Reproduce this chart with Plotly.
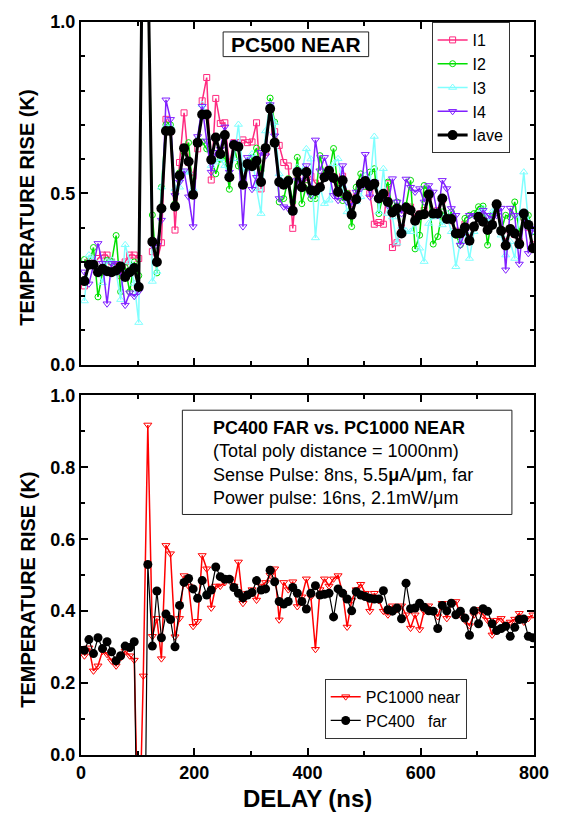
import plotly.graph_objects as go

# ---------------- data ----------------
delay_ns = list(range(6, 800, 8))  # 100 sample delays (ns)

# Top panel: PC500 NEAR
i1 = [0.23,0.30,0.29,0.31,0.32,0.32,0.30,0.29,0.26,0.30,0.32,0.32,0.31,
      1.50,1.20,
      0.33,0.30,0.356,0.716,0.68,0.393,0.59,0.735,0.59,0.55,
      0.63,0.77,0.838,0.539,0.777,0.704,0.706,0.586,0.648,0.648,
      0.656,0.648,0.65,0.706,0.513,0.62,0.747,0.68,0.64,0.59,
      0.58,0.398,0.552,0.528,0.54,0.55,0.53,0.52,0.55,0.57,
      0.55,0.52,0.55,0.50,0.47,0.49,0.52,0.53,0.50,0.41,
      0.415,0.41,0.528,0.342,0.356,0.40,0.45,0.46,0.43,0.44,
      0.45,0.49,0.44,0.45,0.48,0.43,0.42,0.39,0.38,0.41,
      0.37,0.40,0.43,0.42,0.40,0.41,0.46,0.39,0.36,0.39,
      0.38,0.36,0.43,0.40,0.35]
i2 = [0.307,0.29,0.342,0.198,0.27,0.305,0.30,0.377,0.213,0.284,0.213,0.300,0.26,
      1.50,1.20,
      0.437,0.268,0.518,0.70,0.70,0.47,0.56,0.62,0.648,0.50,
      0.65,0.65,0.63,0.60,0.557,0.60,0.61,0.512,0.64,0.58,
      0.53,0.575,0.605,0.632,0.566,0.63,0.778,0.708,0.475,0.485,
      0.543,0.475,0.605,0.470,0.523,0.485,0.485,0.61,0.55,0.56,
      0.631,0.514,0.479,0.50,0.403,0.518,0.557,0.52,0.562,0.572,
      0.441,0.499,0.533,0.448,0.475,0.388,0.465,0.538,0.338,0.378,
      0.523,0.504,0.352,0.374,0.446,0.427,0.446,0.378,0.35,0.427,
      0.436,0.441,0.461,0.463,0.349,0.436,0.461,0.391,0.436,0.431,
      0.475,0.388,0.427,0.436,0.388]
i3 = [0.186,0.320,0.308,0.27,0.239,0.302,0.306,0.27,0.19,0.35,0.30,0.237,0.123,
      1.50,1.20,
      0.243,0.272,0.518,0.696,0.696,0.514,0.518,0.562,0.562,0.514,
      0.658,0.759,0.732,0.581,0.591,0.601,0.581,0.552,0.601,0.701,
      0.562,0.596,0.615,0.514,0.441,0.682,0.759,0.706,0.557,0.533,
      0.538,0.446,0.576,0.56,0.63,0.60,0.37,0.52,0.47,0.48,
      0.586,0.601,0.523,0.446,0.446,0.475,0.49,0.552,0.523,0.666,
      0.446,0.572,0.441,0.431,0.355,0.403,0.390,0.388,0.417,0.340,
      0.301,0.412,0.431,0.436,0.408,0.441,0.388,0.286,0.359,0.388,
      0.310,0.388,0.441,0.456,0.417,0.446,0.465,0.378,0.320,0.359,
      0.310,0.436,0.562,0.417,0.388]
i4 = [0.271,0.236,0.29,0.354,0.296,0.178,0.296,0.296,0.27,0.174,0.21,0.20,0.214,
      1.50,1.20,
      0.349,0.349,0.422,0.773,0.716,0.494,0.533,0.566,0.49,0.403,
      0.666,0.754,0.653,0.562,0.62,0.629,0.694,0.562,0.648,0.634,
      0.403,0.605,0.512,0.547,0.62,0.610,0.759,0.668,0.485,0.461,
      0.456,0.446,0.538,0.533,0.581,0.494,0.656,0.566,0.605,0.562,
      0.494,0.480,0.581,0.475,0.465,0.504,0.514,0.614,0.49,0.533,
      0.485,0.49,0.465,0.543,0.475,0.441,0.542,0.518,0.504,0.514,
      0.475,0.523,0.504,0.436,0.538,0.514,0.456,0.436,0.349,0.388,
      0.436,0.436,0.427,0.451,0.436,0.427,0.436,0.457,0.277,0.457,
      0.436,0.294,0.436,0.325,0.398]
iave = [0.244,0.292,0.292,0.270,0.280,0.273,0.270,0.275,0.287,0.256,0.270,0.282,0.227,
        1.50,1.20,
        0.359,0.300,0.456,0.682,0.682,0.462,0.552,0.632,0.593,0.496,
        0.648,0.730,0.730,0.598,0.663,0.615,0.670,0.547,0.641,0.636,
        0.525,0.586,0.579,0.595,0.533,0.632,0.747,0.648,0.533,0.525,
        0.536,0.449,0.562,0.518,0.562,0.509,0.507,0.518,0.547,0.566,
        0.545,0.504,0.538,0.492,0.438,0.483,0.528,0.536,0.521,0.528,
        0.485,0.499,0.475,0.444,0.456,0.383,0.459,0.451,0.420,0.436,
        0.439,0.497,0.441,0.441,0.485,0.425,0.425,0.383,0.383,0.401,
        0.362,0.403,0.432,0.417,0.393,0.408,0.468,0.391,0.348,0.396,
        0.383,0.352,0.441,0.408,0.340]

# Bottom panel: PC400 FAR vs PC1000 NEAR
pc1000_near = [0.276,0.298,0.234,0.248,0.289,0.280,0.262,0.248,0.271,0.289,0.276,0.264,
               -0.30,0.220,0.918,
               0.33,0.38,0.268,0.583,0.560,0.329,0.38,0.499,0.47,0.358,
               0.372,0.555,0.518,0.409,0.47,0.47,0.48,0.49,0.47,0.537,
               0.422,0.45,0.46,0.431,0.47,0.48,0.50,0.518,0.376,0.48,
               0.46,0.482,0.413,0.44,0.49,0.44,0.294,0.46,0.49,
               0.47,0.49,0.499,0.45,0.356,0.43,0.46,0.475,0.45,0.40,
               0.45,0.43,0.40,0.39,0.415,0.405,0.415,0.39,0.353,0.39,
               0.349,0.40,0.415,0.40,0.385,0.422,0.38,0.422,0.427,0.39,
               0.375,0.36,0.39,0.405,0.39,0.375,0.334,0.375,0.38,0.364,
               0.37,0.378,0.394,0.37,0.38,0.39]
pc400_far = [0.291,0.321,0.282,0.326,0.296,0.315,0.287,0.262,0.276,0.303,0.299,0.315,
             -0.60,-0.70,0.530,
             0.303,0.456,0.326,0.392,0.377,0.301,0.416,0.480,0.491,0.462,
             0.436,0.485,0.445,0.459,0.523,0.496,0.489,0.489,0.466,0.450,
             0.437,0.445,0.452,0.485,0.459,0.462,0.514,0.482,0.427,0.420,
             0.427,0.466,0.450,0.427,0.406,0.450,0.471,0.445,0.447,
             0.450,0.384,0.462,0.450,0.434,0.401,0.454,0.445,0.441,0.436,
             0.434,0.434,0.457,0.404,0.400,0.409,0.379,0.478,0.407,0.409,
             0.422,0.411,0.401,0.400,0.352,0.416,0.401,0.422,0.390,0.400,
             0.381,0.333,0.401,0.365,0.407,0.400,0.365,0.346,0.352,0.358,
             0.330,0.355,0.377,0.378,0.330,0.326]

top_series = [("I1", i1, "#ff2a80", "square-open", 6),
              ("I2", i2, "#00e000", "circle-open", 6),
              ("I3", i3, "#80ffff", "triangle-up-open", 7),
              ("I4", i4, "#8020ff", "triangle-down-open", 7)]

FONT = "Liberation Sans, Arial, sans-serif"

fig = go.Figure()
for name, vals, col, sym, sz in top_series:
    fig.add_trace(go.Scatter(x=delay_ns, y=vals, name=name, mode="lines+markers",
                             line=dict(color=col, width=1.5),
                             marker=dict(symbol=sym, size=sz, color=col, line=dict(color=col, width=1)),
                             xaxis="x", yaxis="y", legend="legend"))
fig.add_trace(go.Scatter(x=delay_ns, y=iave, name="Iave", mode="lines+markers",
                         line=dict(color="black", width=3),
                         marker=dict(symbol="circle", size=10, color="black"),
                         xaxis="x", yaxis="y", legend="legend"))

fig.add_trace(go.Scatter(x=delay_ns, y=pc1000_near, name="PC1000 near", mode="lines+markers",
                         line=dict(color="#ff0000", width=1.5),
                         marker=dict(symbol="triangle-down-open", size=7, color="#ff0000",
                                     line=dict(color="#ff0000", width=1)),
                         xaxis="x2", yaxis="y2", legend="legend2"))
fig.add_trace(go.Scatter(x=delay_ns, y=pc400_far, name="PC400\u00a0\u00a0\u00a0far", mode="lines+markers",
                         line=dict(color="black", width=1.2),
                         marker=dict(symbol="circle", size=9, color="black"),
                         xaxis="x2", yaxis="y2", legend="legend2"))

axis_common = dict(showline=True, linewidth=2, linecolor="black", mirror="allticks",
                   ticks="inside", ticklen=7, tickwidth=2, tickcolor="black",
                   showgrid=False, zeroline=False,
                   tickfont=dict(family=FONT, size=18, color="black", weight="bold"))

fig.update_layout(
    width=561, height=813,
    margin=dict(l=81, r=25, t=15, b=58),
    paper_bgcolor="white", plot_bgcolor="white",
    font=dict(family=FONT, color="black"),
    xaxis=dict(domain=[0, 1], anchor="y", range=[0, 800], tick0=0, dtick=200,
               showticklabels=False,
               minor=dict(dtick=100, ticks="inside", ticklen=4, tickwidth=2, tickcolor="black"),
               **axis_common),
    yaxis=dict(domain=[0.5324, 1], anchor="x", range=[0, 1], tick0=0, dtick=0.5, tickformat=".1f",
               minor=dict(dtick=0.1, ticks="inside", ticklen=4, tickwidth=2, tickcolor="black"),
               **axis_common),
    xaxis2=dict(domain=[0, 1], anchor="y2", range=[0, 800], tick0=0, dtick=200,
                minor=dict(dtick=100, ticks="inside", ticklen=4, tickwidth=2, tickcolor="black"),
                **axis_common),
    yaxis2=dict(domain=[0, 0.4905], anchor="x2", range=[0, 1], tick0=0, dtick=0.2, tickformat=".1f",
                minor=dict(dtick=0.1, ticks="inside", ticklen=4, tickwidth=2, tickcolor="black"),
                **axis_common),
    legend=dict(x=0.774, y=1.0, xanchor="left", yanchor="top",
                bordercolor="#333333", borderwidth=1, bgcolor="white",
                font=dict(family=FONT, size=16, color="black"), tracegroupgap=0),
    legend2=dict(x=0.538, y=0.104, xanchor="left", yanchor="top",
                 bordercolor="#333333", borderwidth=1, bgcolor="white",
                 font=dict(family=FONT, size=16, color="black"), tracegroupgap=0),
    showlegend=True,
)

# boxes
fig.add_shape(type="rect", xref="x", yref="y", x0=251, x1=508, y0=0.899, y1=0.971,
              line=dict(color="#222222", width=1), fillcolor="white", layer="above")
fig.add_annotation(xref="x", yref="y", x=380, y=0.935, text="<b>PC500 NEAR</b>",
                   showarrow=False, font=dict(family=FONT, size=21, color="black"))

fig.add_shape(type="rect", xref="x2", yref="y2", x0=179, x1=761, y0=0.669, y1=0.959,
              line=dict(color="#222222", width=1), fillcolor="white", layer="above")
fig.add_annotation(xref="x2", yref="y2", x=230, y=0.812, xanchor="left", yanchor="middle", align="left",
                   text=("<b>PC400 FAR vs. PC1000 NEAR</b><br>(Total poly distance = 1000nm)<br>"
                         "Sense Pulse: 8ns, 5.5<b>\u03bc</b>A/<b>\u03bc</b>m, far<br>"
                         "Power pulse: 16ns, 2.1mW/\u03bcm"),
                   showarrow=False, font=dict(family=FONT, size=18, color="black"))

# axis titles
for yc in (0.747, 0.2257):
    fig.add_annotation(xref="paper", yref="paper", x=-0.1187, y=yc, xanchor="center", yanchor="middle",
                       text="<b>TEMPERATURE RISE (K)</b>", textangle=-90, showarrow=False,
                       font=dict(family=FONT, size=20, color="black"))
fig.add_annotation(xref="paper", yref="paper", x=0.5, y=-0.0595, xanchor="center", yanchor="middle",
                   text="<b>DELAY (ns)</b>", showarrow=False,
                   font=dict(family=FONT, size=24, color="black"))

fig.write_html("out.html")
